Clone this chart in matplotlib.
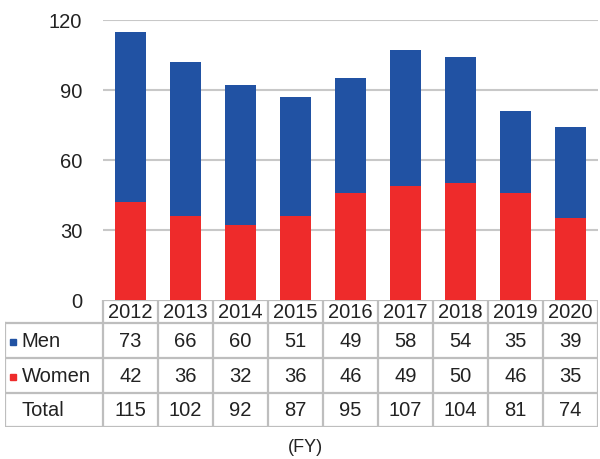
import matplotlib

matplotlib.use("Agg")
import matplotlib.pyplot as plt

plt.rcParams["font.family"] = ["Liberation Sans", "DejaVu Sans"]

years = ["2012", "2013", "2014", "2015", "2016", "2017", "2018", "2019", "2020"]
men = [73, 66, 60, 51, 49, 58, 54, 35, 39]
women = [42, 36, 32, 36, 46, 49, 50, 46, 35]
totals = [115, 102, 92, 87, 95, 107, 104, 81, 74]
y_ticks = [0, 30, 60, 90, 120]

blue = "#2152A3"
red = "#EE2B2B"
grid_color = "#C8C8C8"
line_color = "#BEBEBE"
text_color = "#222222"

W, H = 600, 459
fig = plt.figure(figsize=(W / 100, H / 100), dpi=100)

# bar chart area
left_px, right_px, top_px, bottom_px = 103, 598, 20, 300
ax = fig.add_axes([left_px / W, 1 - bottom_px / H, (right_px - left_px) / W, (bottom_px - top_px) / H])
x = [i + 0.5 for i in range(len(years))]
ax.bar(x, women, width=0.57, color=red, zorder=2)
ax.bar(x, men, width=0.57, bottom=women, color=blue, zorder=2)
ax.set_xlim(0, len(years))
ax.set_ylim(0, 120)
ax.set_yticks(y_ticks)
ax.set_yticklabels([str(t) for t in y_ticks], fontsize=14.5, color=text_color)
ax.tick_params(axis="y", length=0, pad=15)
ax.set_xticks([])
for t in y_ticks[1:]:
    ax.axhline(t, color=grid_color, linewidth=1.5, zorder=1)
for s in ax.spines.values():
    s.set_visible(False)

# data table below
label_w = (left_px - 5) / ((right_px - left_px) / len(years))
tab_bottom = 427
tax = fig.add_axes([5 / W, 1 - tab_bottom / H, (right_px - 5) / W, (tab_bottom - bottom_px) / H])
tax.set_xlim(-label_w, len(years))
tax.set_ylim(tab_bottom, bottom_px)
tax.axis("off")
rows = [bottom_px, 323, 358, 393, tab_bottom]
n = len(years)
lw = 1.6
tax.plot([0, n], [rows[0], rows[0]], color=line_color, lw=lw, solid_capstyle="butt")
for r in rows[1:]:
    tax.plot([-label_w, n], [r, r], color=line_color, lw=lw, solid_capstyle="butt")
tax.plot([-label_w, -label_w], [rows[1], rows[-1]], color=line_color, lw=lw)
for i in range(n + 1):
    tax.plot([i, i], [rows[0], rows[-1]], color=line_color, lw=lw)

fs = 14.5
for i, yr in enumerate(years):
    tax.text(i + 0.5, (rows[0] + rows[1]) / 2 + 1, yr, ha="center", va="center", fontsize=fs, color=text_color)
    for j, vals in enumerate([men, women, totals]):
        tax.text(i + 0.5, (rows[j + 1] + rows[j + 2]) / 2 + 1, str(vals[i]), ha="center", va="center",
                 fontsize=fs, color=text_color)

label_x = -label_w + 0.3
for j, (name, col) in enumerate([("Men", blue), ("Women", red), ("Total", None)]):
    yc = (rows[j + 1] + rows[j + 2]) / 2 + 1
    if col is not None:
        tax.plot([-label_w + 0.15], [yc], marker="s", markersize=5, color=col, linestyle="none")
    tax.text(label_x, yc, name, ha="left", va="center", fontsize=fs, color=text_color)

fig.text(305 / W, 1 - 448 / H, "(FY)", ha="center", va="center", fontsize=13, color=text_color)
fig.text(20 / W, 1 + 8 / H, "(Persons)", ha="left", va="center", fontsize=13, color=text_color)

fig.savefig("out.png", dpi=100)
